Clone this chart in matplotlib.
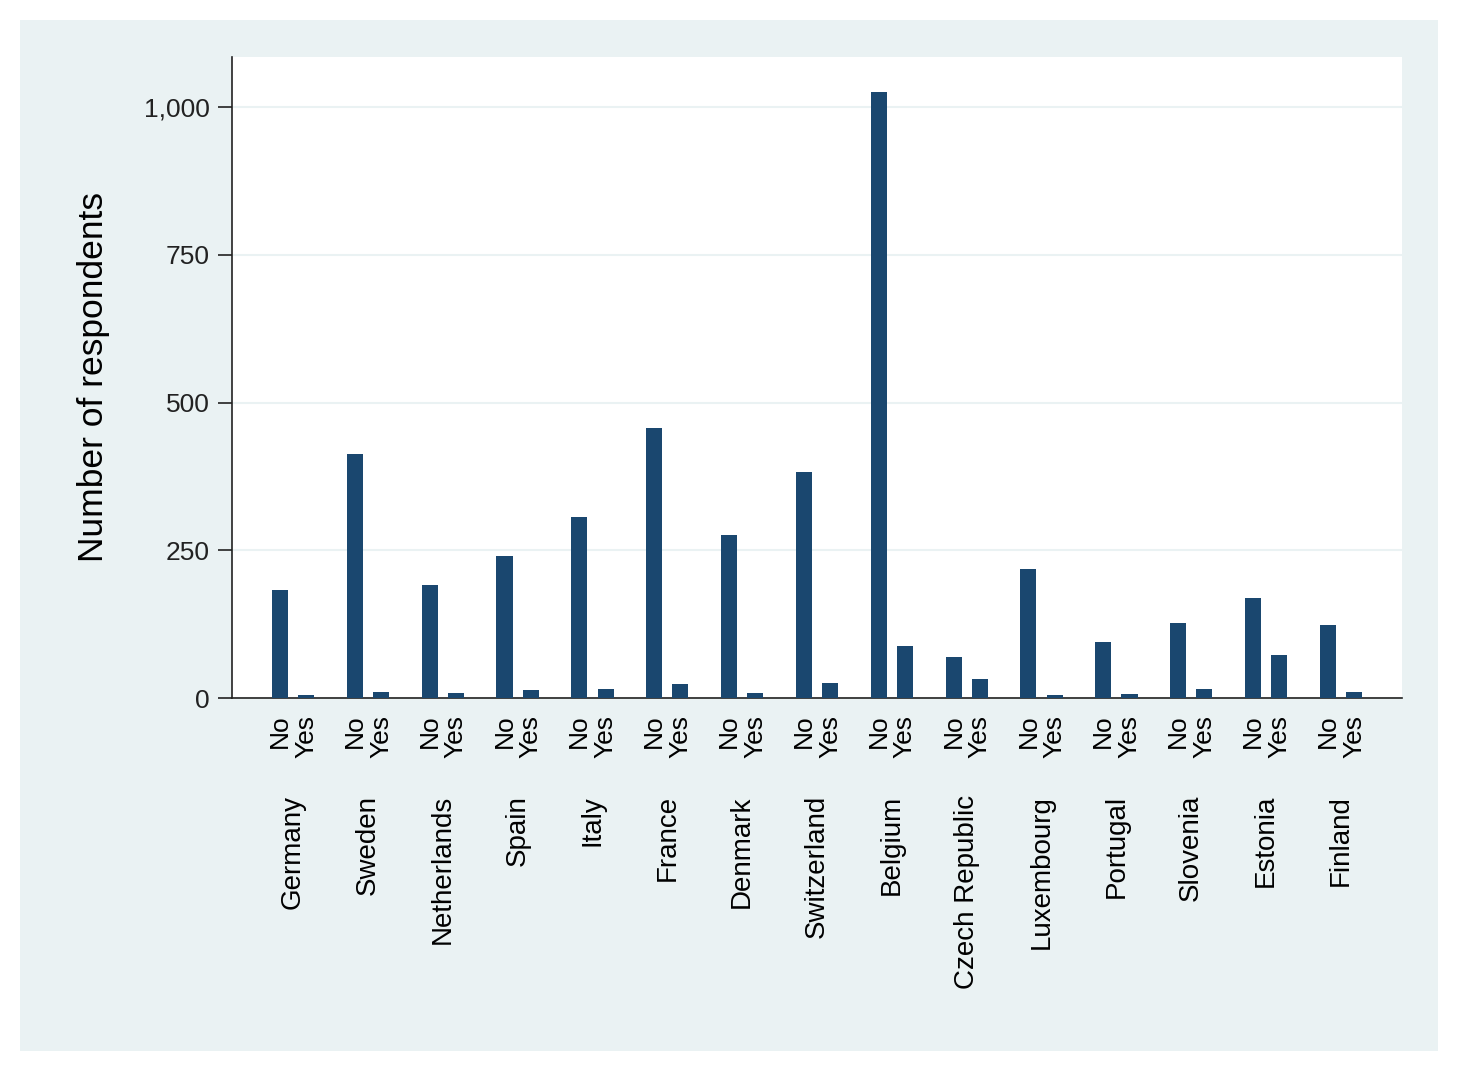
import numpy as np
import matplotlib
matplotlib.use("Agg")
import matplotlib.pyplot as plt
from matplotlib.patches import Rectangle

# ----------------------------
# Data
# ----------------------------
countries = ["Germany", "Sweden", "Netherlands", "Spain", "Italy", "France",
             "Denmark", "Switzerland", "Belgium", "Czech Republic",
             "Luxembourg", "Portugal", "Slovenia", "Estonia", "Finland"]
no_counts = [183, 413, 191, 240, 306, 457, 276, 382, 1025, 70, 219, 94, 127, 169, 124]
yes_counts = [5, 11, 8, 14, 16, 23, 9, 26, 88, 33, 5, 6, 16, 73, 11]
answer_labels = ["No", "Yes"]
y_ticks = [0, 250, 500, 750, 1000]

bar_color = "#1A476F"
panel_color = "#EAF2F3"

plt.rcParams["font.family"] = ["Liberation Sans", "DejaVu Sans"]

fig = plt.figure(figsize=(14.57, 10.71), dpi=100)
fig.patch.set_facecolor("white")
fig.add_artist(Rectangle((20 / 1457, 20 / 1071), 1418 / 1457, 1031 / 1071,
                         transform=fig.transFigure, facecolor=panel_color,
                         edgecolor="none", zorder=0))

ax = fig.add_axes([232 / 1457, 1 - 698 / 1071, 1170 / 1457, 641 / 1071])
ax.set_facecolor("white")

x = np.arange(len(countries))
offset = 0.175
width = 0.215
ax.bar(x - offset, no_counts, width, color=bar_color, zorder=3)
ax.bar(x + offset, yes_counts, width, color=bar_color, zorder=3)

# No / Yes tick labels
tick_pos = np.concatenate([x - offset, x + offset])
tick_lab = [answer_labels[0]] * len(x) + [answer_labels[1]] * len(x)
ax.set_xticks(tick_pos)
ax.set_xticklabels(tick_lab, rotation=90, fontsize=19, va="top")
ax.tick_params(axis="x", length=0, pad=12)

# country names under the groups
for i, c in enumerate(countries):
    ax.annotate(c, xy=(x[i], 0), xycoords=("data", "axes fraction"),
                xytext=(0, -97), textcoords="offset pixels",
                rotation=90, ha="center", va="top", fontsize=20)

ax.set_xlim(-0.816, len(countries) - 1 + 0.816)
ax.set_ylim(0, 1085)
ax.set_yticks(y_ticks)
ax.set_yticklabels([f"{v:,}" for v in y_ticks], fontsize=19)
ax.tick_params(axis="y", length=10, width=1.2, pad=6, colors="#222222")
ax.grid(axis="y", color=panel_color, linewidth=1.5, zorder=0)

ax.set_ylabel("Number of respondents", fontsize=25.5)
ax.yaxis.set_label_coords(-0.104, 0.5)

for s in ["top", "right"]:
    ax.spines[s].set_visible(False)
for s in ["left", "bottom"]:
    ax.spines[s].set_linewidth(1.2)
    ax.spines[s].set_color("#222222")

fig.savefig("out.png", dpi=100, facecolor="white")
